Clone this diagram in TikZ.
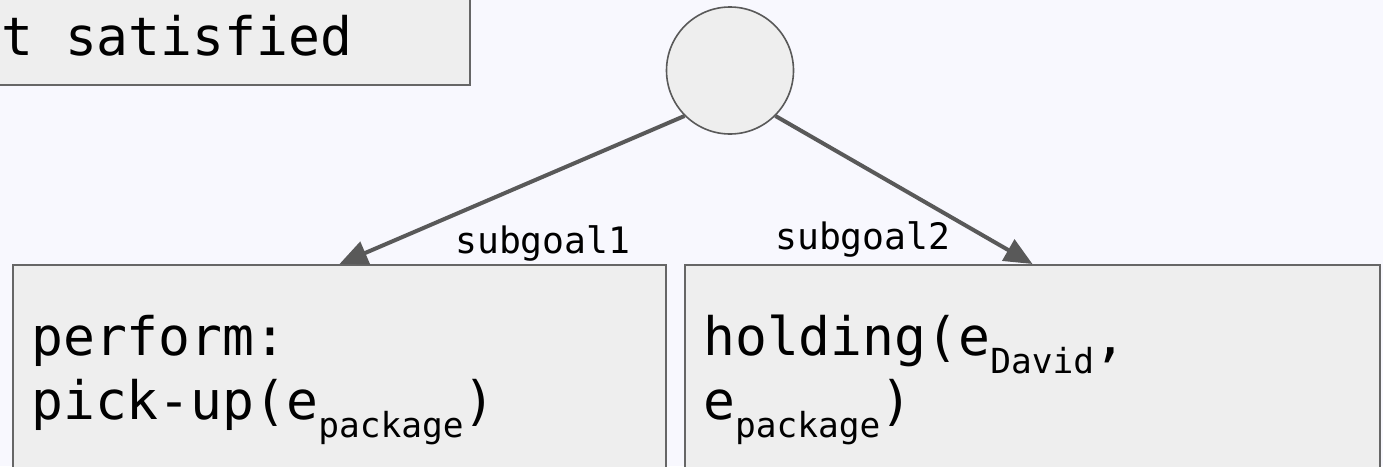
\documentclass[tikz,border=0pt]{standalone}
\usepackage{fontspec}
\setmonofont{DejaVu Sans Mono}
\usepackage{tikz}
\usetikzlibrary{positioning,arrows.meta}

\definecolor{canvas}{RGB}{248,248,254}
\definecolor{boxfill}{RGB}{238,238,238}
\definecolor{boxline}{RGB}{102,102,102}
\definecolor{linkgray}{RGB}{89,89,89}

% lowered index for the entity names
\newcommand{\lowsub}[1]{\raisebox{-18pt}{\fontsize{34.5}{40}\selectfont #1}}

\begin{document}
\begin{tikzpicture}[x=1pt,y=-1pt]
        %
        % `goalbox' is used for the rectangles, `state' for the round node.
        % `bigtext' and `edgelabel' set the monospaced texts.
        \tikzstyle{goalbox} = [draw=boxline,fill=boxfill,line width=1.6pt,inner sep=0pt]
        \tikzstyle{state} = [draw=linkgray,fill=boxfill,shape=circle,line width=1.6pt,minimum size=127pt,inner sep=0pt]
        \tikzstyle{bigtext} = [inner sep=0pt,anchor=base west,font=\ttfamily\fontsize{53}{64}\selectfont]
        \tikzstyle{edgelabel} = [inner sep=0pt,anchor=base west,font=\ttfamily\fontsize{36.4}{42}\selectfont]
        \tikzstyle{link} = [draw=linkgray,line width=4pt,-{Triangle[length=28pt,width=24pt]}]
        %
        \useasboundingbox (0,0) rectangle (1383,466);
        \clip (0,0) rectangle (1383,466);
        \fill[canvas] (0,0) rectangle (1383,466);
        %
        % Goal box
        \node[goalbox,minimum width=520pt,minimum height=110pt] (goal) at (210,30) {};
        \node[bigtext] (goaltext) at (1,55) {t satisfied};
        %
        % Root
        \node[state] (root) at (730,70.5) {};
        %
        % Subgoals
        \node[goalbox,anchor=north,minimum width=653pt,minimum height=260pt] (lbox) at (339.5,264) {};
        \node[goalbox,anchor=north,minimum width=695pt,minimum height=260pt] (rbox) at (1032.5,264) {};
        \node[bigtext] (lline1) at (31,355) {perform:};
        \node[bigtext] (lline2) at (31,419) {pick-up(e\lowsub{package})};
        \node[bigtext] (rline1) at (703,355) {holding(e\lowsub{David},};
        \node[bigtext] (rline2) at (703,419) {e\lowsub{package})};
        %
        % Links
        \draw[link] (root.south west) -- (lbox.north);
        \draw[link] (root.south east) -- (rbox.north);
        \node[edgelabel] (sg1) at (455,253) {subgoal1};
        \node[edgelabel] (sg2) at (775,249) {subgoal2};
        %
    \end{tikzpicture}
\end{document}
